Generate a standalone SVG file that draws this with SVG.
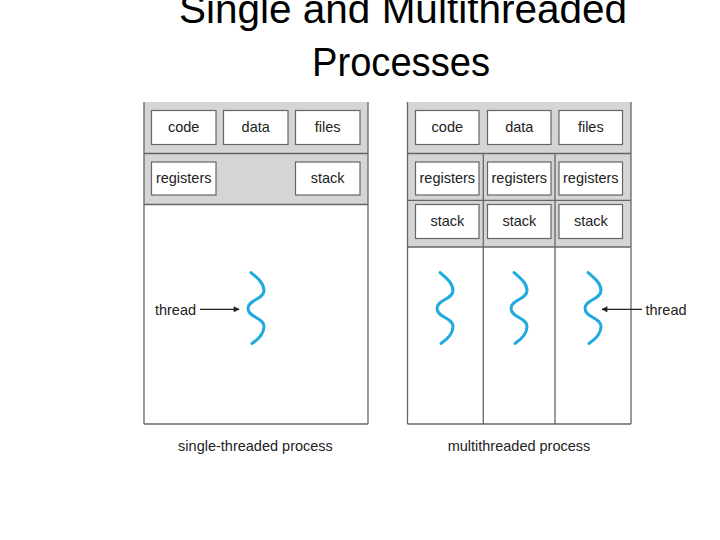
<svg xmlns="http://www.w3.org/2000/svg" width="720" height="540" viewBox="0 0 720 540">
<style>
.t{font-family:"Liberation Sans",Arial,sans-serif;font-size:14.5px;fill:#222;text-anchor:middle}
.title{font-family:"Liberation Sans",Arial,sans-serif;font-size:40px;fill:#000;text-anchor:middle}
.gray{fill:#d5d5d7;stroke:none}
.ln{stroke:#666;stroke-width:1.3;fill:none}
.box{fill:#fff;stroke:#666;stroke-width:1.2}
.thr{fill:none;stroke:#20aade;stroke-width:3;stroke-linecap:round}
.arr{stroke:#222;stroke-width:1.3;fill:none}
</style>
<defs>
<path id="sq" class="thr" d="M -5,0 C 2,6 8,11 8,18 C 8,27 -8,27 -8,36 C -8,45 8,45 8,54 C 8,62 2,67 -4,71"/>
<marker id="ah" viewBox="0 0 10 10" refX="9" refY="5" markerWidth="8" markerHeight="6" markerUnits="userSpaceOnUse" orient="auto">
<path d="M0,0 L10,5 L0,10 z" fill="#222"/>
</marker>
</defs>
<rect width="720" height="540" fill="#fff"/>
<g id="title">
<text class="title" x="403" y="23" textLength="448" lengthAdjust="spacingAndGlyphs">Single and Multithreaded</text>
<text class="title" x="401" y="76" textLength="178" lengthAdjust="spacingAndGlyphs">Processes</text>
</g>
<g id="single-process">
<rect class="gray" x="144" y="102" width="224" height="102.5"/>
<line class="ln" x1="144" y1="102" x2="144" y2="424"/>
<line class="ln" x1="368" y1="102" x2="368" y2="424"/>
<line class="ln" x1="144" y1="424" x2="368" y2="424"/>
<line class="ln" x1="144" y1="153.5" x2="368" y2="153.5"/>
<line class="ln" x1="144" y1="204.5" x2="368" y2="204.5"/>
<rect class="box" x="151.5" y="110.5" width="64.5" height="34"/>
<text class="t" x="183.7" y="132">code</text>
<rect class="box" x="223.5" y="110.5" width="64.5" height="34"/>
<text class="t" x="255.7" y="132">data</text>
<rect class="box" x="295.5" y="110.5" width="64.5" height="34"/>
<text class="t" x="327.7" y="132">files</text>
<rect class="box" x="151.5" y="162" width="64.5" height="33"/>
<text class="t" x="183.7" y="183.3">registers</text>
<rect class="box" x="295.5" y="162" width="64.5" height="33"/>
<text class="t" x="327.7" y="183.3">stack</text>
<use href="#sq" x="256" y="272.5"/>
<text class="t" x="175.5" y="314.5">thread</text>
<text class="t" x="255.5" y="451">single-threaded process</text>
</g>
<g id="multi-process">
<rect class="gray" x="407.5" y="102" width="223.5" height="145"/>
<line class="ln" x1="407.5" y1="102" x2="407.5" y2="424"/>
<line class="ln" x1="631" y1="102" x2="631" y2="424"/>
<line class="ln" x1="407.5" y1="424" x2="631" y2="424"/>
<line class="ln" x1="407.5" y1="153.5" x2="631" y2="153.5"/>
<line class="ln" x1="407.5" y1="200.3" x2="631" y2="200.3"/>
<line class="ln" x1="407.5" y1="247" x2="631" y2="247"/>
<line class="ln" x1="483.3" y1="153.5" x2="483.3" y2="424"/>
<line class="ln" x1="555" y1="153.5" x2="555" y2="424"/>
<rect class="box" x="415.5" y="110.5" width="63.5" height="34"/>
<text class="t" x="447.3" y="132">code</text>
<rect class="box" x="487.5" y="110.5" width="63.5" height="34"/>
<text class="t" x="519.3" y="132">data</text>
<rect class="box" x="559" y="110.5" width="63.5" height="34"/>
<text class="t" x="590.8" y="132">files</text>
<rect class="box" x="415.5" y="162" width="63.5" height="33"/>
<text class="t" x="447.3" y="183.3">registers</text>
<rect class="box" x="487.5" y="162" width="63.5" height="33"/>
<text class="t" x="519.3" y="183.3">registers</text>
<rect class="box" x="559" y="162" width="63.5" height="33"/>
<text class="t" x="590.8" y="183.3">registers</text>
<rect class="box" x="415.5" y="204.5" width="63.5" height="34"/>
<text class="t" x="447.3" y="226">stack</text>
<rect class="box" x="487.5" y="204.5" width="63.5" height="34"/>
<text class="t" x="519.3" y="226">stack</text>
<rect class="box" x="559" y="204.5" width="63.5" height="34"/>
<text class="t" x="590.8" y="226">stack</text>
<use href="#sq" x="445" y="272.5"/>
<use href="#sq" x="519" y="272.5"/>
<use href="#sq" x="593" y="272.5"/>
<text class="t" x="666" y="314.5">thread</text>
<text class="t" x="519" y="451">multithreaded process</text>
</g>
<g id="connectors">
<line class="arr" x1="200" y1="309.3" x2="239" y2="309.3" marker-end="url(#ah)"/>
<line class="arr" x1="642" y1="309.3" x2="602" y2="309.3" marker-end="url(#ah)"/>
</g>
</svg>
